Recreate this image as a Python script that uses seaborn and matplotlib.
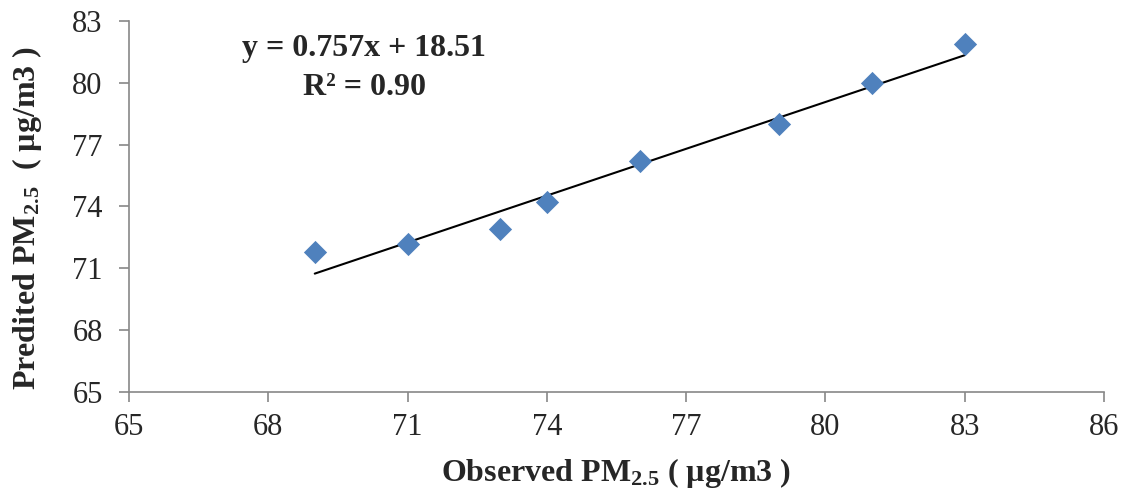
import numpy as np
import pandas as pd
import seaborn as sns
import matplotlib.pyplot as plt

observed = [69, 71, 73, 74, 76, 79, 81, 83]
predicted = [71.8, 72.2, 72.9, 74.2, 76.2, 78.0, 80.0, 81.9]
slope = 0.757
intercept = 18.51
x_ticks = [65, 68, 71, 74, 77, 80, 83, 86]
y_ticks = [65, 68, 71, 74, 77, 80, 83]

df = pd.DataFrame({'obs': observed, 'pred': predicted})

sns.set_style('ticks')
plt.rcParams.update({'font.family': ['Liberation Serif', 'DejaVu Serif'],
                     'mathtext.fontset': 'custom',
                     'mathtext.rm': 'Liberation Serif',
                     'mathtext.bf': 'Liberation Serif:bold',
                     'mathtext.it': 'Liberation Serif:italic'})

fig = plt.figure(figsize=(11.26, 4.95), dpi=100)
ax = fig.add_axes([0.1146, 0.2081, 0.8659, 0.7495])

fit_x = np.array([min(observed), max(observed)])
ax.plot(fit_x, slope * fit_x + intercept, color='black', lw=1.5, zorder=1)
sns.scatterplot(data=df, x='obs', y='pred', marker='D', s=140, color='#4F81BD',
                edgecolor='#4F81BD', linewidth=0, ax=ax, zorder=2)

ax.set_xlim(65, 86)
ax.set_ylim(65, 83)
ax.set_xticks(x_ticks)
ax.set_yticks(y_ticks)
ax.tick_params(labelsize=22, color='#888888', length=7, width=1.2)
ax.tick_params(axis='x', pad=8)
ax.tick_params(axis='y', pad=12)
for s in ['top', 'right']:
    ax.spines[s].set_visible(False)
for s in ['left', 'bottom']:
    ax.spines[s].set_color('#888888')
    ax.spines[s].set_linewidth(1.2)

ax.set_xlabel(r'Observed PM$_{\mathbf{2.5}}$ ( µg/m3 )', fontsize=23, fontweight='bold', labelpad=10)
ax.set_ylabel(r'Predited PM$_{\mathbf{2.5}}$  ( µg/m3 )', fontsize=23, fontweight='bold')
ax.yaxis.set_label_coords(-0.087, 0.47)

ax.text(0.241, 0.873, 'y = 0.757x + 18.51\nR² = 0.90', transform=ax.transAxes,
        ha='center', va='center', fontsize=23, fontweight='bold', linespacing=1.45)

fig.savefig('out.png', dpi=100)
